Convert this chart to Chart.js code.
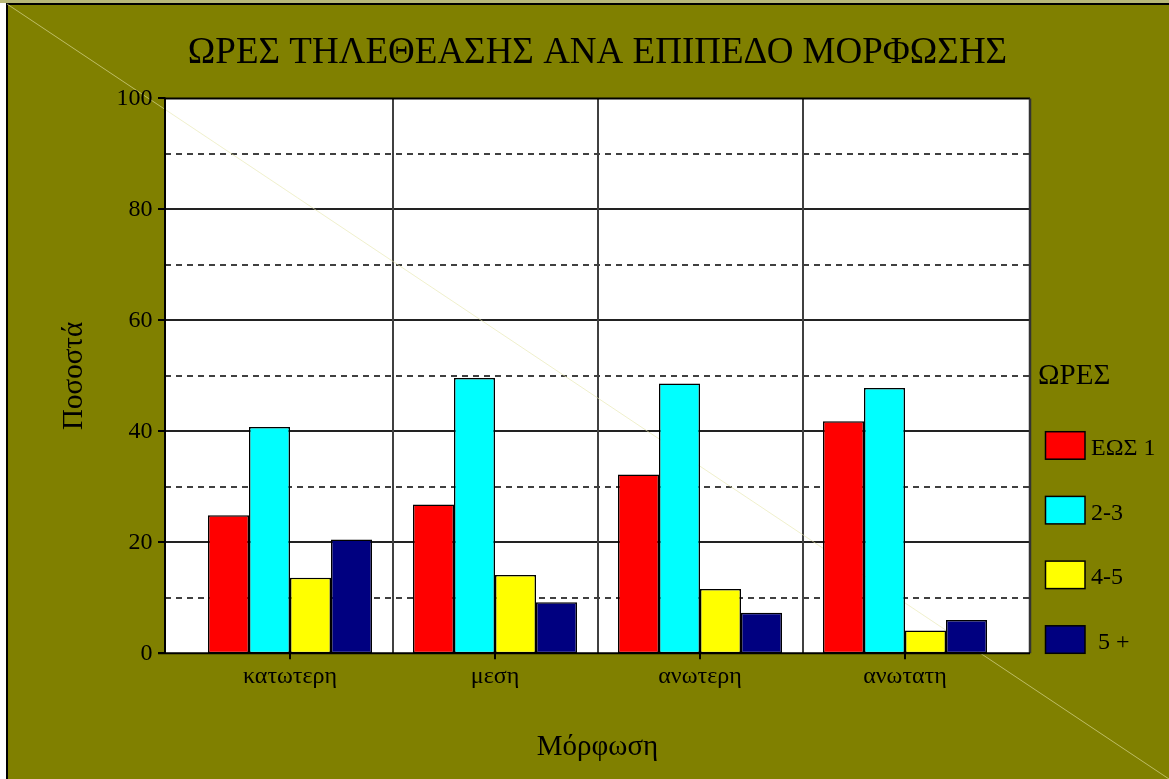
<!DOCTYPE html>
<html><head><meta charset="utf-8">
<script src="https://cdn.jsdelivr.net/npm/chart.js@4/dist/chart.umd.min.js"></script>
<style>html,body{margin:0;padding:0;background:#fff;overflow:hidden}canvas{display:block}</style>
</head><body>
<canvas id="c" width="1169" height="779"></canvas>
<script>
const categories = ['κατωτερη', 'μεση', 'ανωτερη', 'ανωτατη'];
const seriesNames = ['ΕΩΣ 1', '2-3', '4-5', '5 +'];
const upTo1 = [24.9, 26.8, 32.2, 41.8];
const hours2to3 = [40.8, 49.6, 48.6, 47.8];
const hours4to5 = [13.6, 14.1, 11.6, 4.1];
const over5 = [20.5, 9.2, 7.3, 6.0];
const yTickValues = [0, 20, 40, 60, 80, 100];
const seriesColors = ['#ff0000', '#00ffff', '#ffff00', '#000080'];

const chartTitle = 'ΩΡΕΣ ΤΗΛΕΘΕΑΣΗΣ ΑΝΑ ΕΠΙΠΕΔΟ ΜΟΡΦΩΣΗΣ';
const yTitle = 'Ποσοστά';
const xTitle = 'Μόρφωση';
const legendTitle = 'ΩΡΕΣ';

const SERIF = "'Liberation Serif', 'DejaVu Serif', serif";
const OLIVE = '#808000';
const EXT = 22.5; // plot frame extends beyond category band

const allSeries = [upTo1, hours2to3, hours4to5, over5];
const datasets = allSeries.map((vals, i) => ({
  label: seriesNames[i],
  data: vals,
  backgroundColor: seriesColors[i],
  borderColor: '#000000',
  borderWidth: 1.5,
  borderSkipped: false,
  categoryPercentage: 0.8,
  barPercentage: 1.0
}));

const framePlugin = {
  id: 'frame',
  beforeDraw(chart) {
    const ctx = chart.ctx;
    const W = chart.width, H = chart.height;
    const xs = chart.scales.x, ys = chart.scales.y;
    const ca = chart.chartArea;
    ctx.save();
    ctx.fillStyle = '#ffffff';
    ctx.fillRect(0, 0, W, H);
    ctx.fillStyle = '#b8b878';
    ctx.fillRect(0, 0, W, 3);
    ctx.fillStyle = OLIVE;
    ctx.fillRect(6, 3, W - 6, H - 3);
    ctx.fillStyle = '#000000';
    ctx.fillRect(6, 3, W - 6, 2);
    ctx.fillRect(6, 3, 2, H - 3);

    const L = ca.left - EXT, R = ca.right + EXT;
    const T = ys.getPixelForValue(100), B = ys.getPixelForValue(0);
    ctx.fillStyle = '#ffffff';
    ctx.fillRect(L, T, R - L, B - T);

    // horizontal gridlines
    for (let v = 10; v < 100; v += 10) {
      const y = Math.round(ys.getPixelForValue(v));
      ctx.beginPath();
      if (v % 20 === 0) {
        ctx.setLineDash([]);
        ctx.strokeStyle = '#222222';
      } else {
        ctx.setLineDash([6, 5]);
        ctx.strokeStyle = '#404040';
      }
      ctx.lineWidth = 2;
      ctx.moveTo(L, y);
      ctx.lineTo(R, y);
      ctx.stroke();
    }
    ctx.setLineDash([]);
    // vertical gridlines between categories
    ctx.strokeStyle = '#404040';
    ctx.lineWidth = 2;
    for (let i = 0; i < categories.length - 1; i++) {
      const x = Math.round((xs.getPixelForValue(i) + xs.getPixelForValue(i + 1)) / 2);
      ctx.beginPath();
      ctx.moveTo(x, T);
      ctx.lineTo(x, B);
      ctx.stroke();
    }
    // faint diagonal
    ctx.strokeStyle = 'rgba(230,230,170,0.6)';
    ctx.lineWidth = 1;
    ctx.beginPath();
    ctx.moveTo(7, 4);
    ctx.lineTo(W, H);
    ctx.stroke();
    ctx.restore();
  },
  afterDatasetsDraw(chart) {
    const ctx = chart.ctx;
    const xs = chart.scales.x, ys = chart.scales.y;
    const ca = chart.chartArea;
    const L = ca.left - EXT, R = ca.right + EXT;
    const T = ys.getPixelForValue(100), B = ys.getPixelForValue(0);
    ctx.save();
    ctx.strokeStyle = '#000000';
    ctx.lineWidth = 2;
    ctx.beginPath();
    ctx.moveTo(L, T); ctx.lineTo(R, T);
    ctx.stroke();
    ctx.strokeStyle = '#333333';
    ctx.lineWidth = 2.5;
    ctx.beginPath();
    ctx.moveTo(R, T); ctx.lineTo(R, B);
    ctx.stroke();
    ctx.strokeStyle = '#000000';
    ctx.lineWidth = 2;
    ctx.beginPath();
    ctx.moveTo(L, T - 1); ctx.lineTo(L, B + 1);
    ctx.moveTo(L - 7, B); ctx.lineTo(R, B);
    ctx.stroke();
    // y tick marks
    yTickValues.forEach(v => {
      const y = Math.round(ys.getPixelForValue(v));
      ctx.beginPath();
      ctx.moveTo(L - 7, y); ctx.lineTo(L, y);
      ctx.stroke();
    });
    // x tick marks
    categories.forEach((c, i) => {
      const x = Math.round(xs.getPixelForValue(i));
      ctx.beginPath();
      ctx.moveTo(x, B); ctx.lineTo(x, B + 6);
      ctx.stroke();
    });
    ctx.restore();
  },
  afterDraw(chart) {
    const ctx = chart.ctx;
    ctx.save();
    ctx.fillStyle = '#000000';
    ctx.textBaseline = 'alphabetic';
    ctx.textAlign = 'left';
    ctx.font = '29px ' + SERIF;
    ctx.fillText(legendTitle, 1038, 384);
    chart.data.datasets.forEach((ds, i) => {
      const y = 431.7 + i * 64.7;
      ctx.fillStyle = ds.backgroundColor;
      ctx.fillRect(1045.5, y, 39.5, 27.5);
      ctx.strokeStyle = '#000000';
      ctx.lineWidth = 1.5;
      ctx.strokeRect(1045.5, y, 39.5, 27.5);
      ctx.fillStyle = '#000000';
      ctx.font = '24px ' + SERIF;
      ctx.fillText(ds.label, i === 3 ? 1098 : 1091, y + 23.3);
    });
    ctx.restore();
  }
};

new Chart(document.getElementById('c'), {
  type: 'bar',
  data: { labels: categories, datasets: datasets },
  options: {
    responsive: false,
    animation: false,
    devicePixelRatio: 1,
    layout: { padding: { left: 0, right: 161.5, top: 0, bottom: 0 } },
    plugins: {
      legend: { display: false },
      tooltip: { enabled: false },
      title: {
        display: true,
        text: chartTitle,
        fullSize: false,
        color: '#000000',
        font: { family: SERIF, size: 37, weight: 'normal', lineHeight: 1.2 },
        padding: { top: 31, bottom: 23 }
      }
    },
    scales: {
      x: {
        grid: { display: false, drawTicks: false },
        border: { display: false },
        ticks: { color: '#000000', font: { family: SERIF, size: 24 }, padding: 9, maxRotation: 0 },
        title: { display: true, text: xTitle, color: '#000000', font: { family: SERIF, size: 29 }, padding: { top: 0, bottom: 14 } },
        afterFit(s) { s.height = 125.7; }
      },
      y: {
        min: 0, max: 100,
        grid: { display: false, drawTicks: false },
        border: { display: false },
        ticks: { stepSize: 20, color: '#000000', font: { family: SERIF, size: 24 }, padding: 35 },
        title: { display: true, text: yTitle, color: '#000000', font: { family: SERIF, size: 29 }, padding: { top: 57, bottom: 0 } },
        afterFit(s) { s.width = 187.5; }
      }
    }
  },
  plugins: [framePlugin]
});
</script>
</body></html>
